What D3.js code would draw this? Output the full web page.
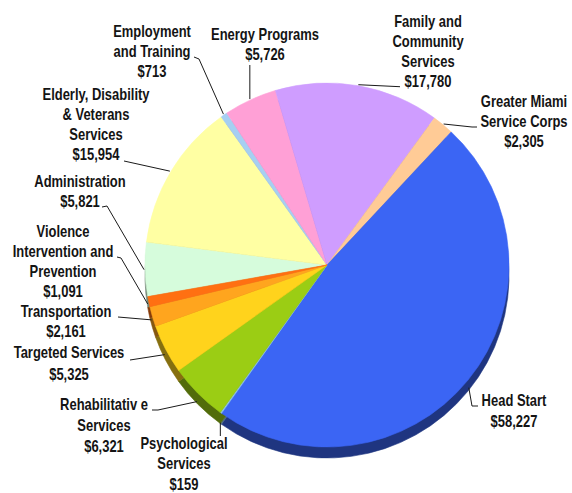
<!DOCTYPE html>
<html>
<head>
<meta charset="utf-8">
<script src="https://cdn.jsdelivr.net/npm/d3@7"></script>
<style>
  html, body { margin: 0; padding: 0; background: #fff; }
  svg text {
    font-family: "Liberation Sans", Arial, sans-serif;
    font-weight: bold;
    font-size: 16px;
    fill: #141414;
  }
</style>
</head>
<body>
<svg id="chart" width="572" height="493"></svg>
<script>
// Budget by program area, in thousands of dollars (clockwise order)
const categories = [
  "Administration",
  "Elderly, Disability & Veterans Services",
  "Employment and Training",
  "Energy Programs",
  "Family and Community Services",
  "Greater Miami Service Corps",
  "Head Start",
  "Psychological Services",
  "Rehabilitative Services",
  "Targeted Services",
  "Transportation",
  "Violence Intervention and Prevention"
];
const values = [5821, 15954, 713, 5726, 17780, 2305, 58227, 159, 6321, 5325, 2161, 1091];

// Label text split into the lines it is printed on
const labelLines = [
  ["Administration"],
  ["Elderly, Disability", "& Veterans", "Services"],
  ["Employment", "and Training"],
  ["Energy Programs"],
  ["Family and", "Community", "Services"],
  ["Greater Miami", "Service Corps"],
  ["Head Start"],
  ["Psychological", "Services"],
  ["Rehabilitativ e", "Services"],
  ["Targeted Services"],
  ["Transportation"],
  ["Violence", "Intervention and", "Prevention"]
];

const sliceColors = [
  "#d6fcdc", "#ffffa3", "#a6cff2", "#ffa0d6", "#cf9dff", "#ffcb96",
  "#3b65f4", "#8fc3f0", "#9bcd14", "#ffd31c", "#ffa51e", "#ff7012"
];

const svg = d3.select("#chart");
const cx = 327, cy = 265, R = 182, depth = 11;
const textSqueeze = 0.81;   // condensed lettering
const toRad = d => d * Math.PI / 180;

const pie = d3.pie()
  .sort(null)
  .value(d => d)
  .startAngle(toRad(-100))
  .endAngle(toRad(260));
const arcs = pie(values);
const arc = d3.arc().innerRadius(0).outerRadius(R);

// Extruded side of the pie: the same slices, darker, pushed down
const sideG = svg.append("g").attr("transform", `translate(${cx},${cy + depth})`);
sideG.selectAll("path")
  .data(arcs)
  .join("path")
  .attr("d", arc)
  .attr("fill", (d, i) => d3.color(sliceColors[i]).darker(1.8))
  .attr("stroke", (d, i) => d3.color(sliceColors[i]).darker(1.8))
  .attr("stroke-width", 0.6);

// Top face
const faceG = svg.append("g").attr("transform", `translate(${cx},${cy})`);
faceG.selectAll("path")
  .data(arcs)
  .join("path")
  .attr("d", arc)
  .attr("fill", (d, i) => sliceColors[i])
  .attr("stroke", (d, i) => sliceColors[i])
  .attr("stroke-width", 0.6);

// Point on the pie rim (including the visible side) for a slice
function rimPoint(d, frac = 0.5, extra = 1) {
  const a = d.startAngle + (d.endAngle - d.startAngle) * frac;
  const x = cx + (R + extra) * Math.sin(a);
  let y = cy - (R + extra) * Math.cos(a);
  y += depth * Math.max(0, -Math.cos(a));
  return [x, y];
}

// Label placement: text centre, first baseline, line spacing, leader path
const layout = [
  { x: 80, y: 187, lh: 20, leader: e => [[102, 207], [107, 206], e] },
  { x: 96, y: 100, lh: 20, leader: e => [[124, 161], e] },
  { x: 152, y: 37, lh: 20, leader: e => [[194, 57], [199, 59], e] },
  { x: 265, y: 40, lh: 20, leader: e => [[e[0], 65], e] },
  { x: 428, y: 27, lh: 20, leader: e => [[400, e[1] + 2], e] },
  { x: 524, y: 107, lh: 20, leader: e => [[477, 127], [472, 127], e] },
  { x: 514, y: 406, lh: 21, leader: e => [[478, 406], [472, 406], e] },
  { x: 184, y: 449, lh: 20.5, leader: e => [[e[0], 436], e] },
  { x: 104, y: 410, lh: 21, leader: e => [[152, 410], [158, 410], e] },
  { x: 69, y: 358, lh: 22, leader: e => [[130, 360], e] },
  { x: 66, y: 317, lh: 20, leader: e => [[118, 317], e] },
  { x: 63, y: 237, lh: 20, leader: e => [[117, 257], [121, 258], e] }
];

const money = d3.format("$,");
const line = d3.line();

const labels = svg.append("g");
arcs.forEach((d, i) => {
  const L = layout[i];
  const end = rimPoint(d);
  labels.append("path")
    .attr("d", line(L.leader(end)))
    .attr("fill", "none")
    .attr("stroke", "#1a1a1a")
    .attr("stroke-width", 1);

  const lines = labelLines[i].concat([money(values[i])]);
  const t = labels.append("text")
    .attr("text-anchor", "middle")
    .attr("transform", `translate(${L.x},0) scale(${textSqueeze},1)`);
  lines.forEach((s, k) => {
    t.append("tspan")
      .attr("x", 0)
      .attr("y", L.y + k * L.lh)
      .text(s);
  });
});
</script>
</body>
</html>
